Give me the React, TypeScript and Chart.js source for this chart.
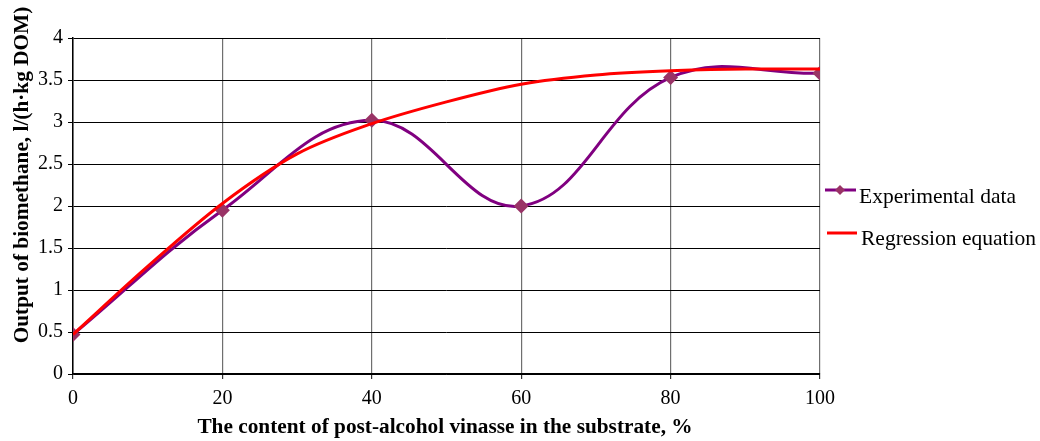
import React, { useEffect, useRef } from "react";
import { Chart, registerables } from "chart.js";

Chart.register(...registerables);

const xContent = [0, 20, 40, 60, 80, 100];
const experimental = [0.47, 1.95, 3.02, 2.0, 3.53, 3.58];

const regressionX = [0, 10, 20, 30, 40, 50, 60, 70, 80, 90, 100];
const regressionY = [0.47, 1.28, 2.03, 2.62, 2.98, 3.24, 3.45, 3.56, 3.61, 3.63, 3.63];

const xTicks = [0, 20, 40, 60, 80, 100];
const yTicks = [0, 0.5, 1, 1.5, 2, 2.5, 3, 3.5, 4];

const legendLabels = ["Experimental data", "Regression equation"];
const xTitle = "The content of post-alcohol vinasse in the substrate, %";
const yTitle = "Output of biomethane, l/(h·kg DOM)";

const PURPLE = "#800080";
const MARKER = "#993366";
const RED = "#ff0000";

const customPlugin = {
  id: "customText",
  afterDraw(chart: any) {
    const ctx = chart.ctx;
    ctx.save();
    // legend
    ctx.lineWidth = 3;
    ctx.strokeStyle = PURPLE;
    ctx.beginPath();
    ctx.moveTo(825, 190);
    ctx.lineTo(856, 190);
    ctx.stroke();
    ctx.fillStyle = MARKER;
    ctx.beginPath();
    ctx.moveTo(840, 185);
    ctx.lineTo(845, 190);
    ctx.lineTo(840, 195);
    ctx.lineTo(835, 190);
    ctx.closePath();
    ctx.fill();
    ctx.strokeStyle = RED;
    ctx.beginPath();
    ctx.moveTo(827, 233);
    ctx.lineTo(857, 233);
    ctx.stroke();
    ctx.fillStyle = "#000";
    ctx.font = "21.5px 'Liberation Serif'";
    ctx.textAlign = "left";
    ctx.textBaseline = "alphabetic";
    ctx.fillText(legendLabels[0], 859, 203);
    ctx.fillText(legendLabels[1], 861, 245);
    // titles
    ctx.font = "bold 21.3px 'Liberation Serif'";
    ctx.textAlign = "center";
    ctx.fillText(xTitle, 445, 433);
    ctx.font = "bold 21.3px 'Liberation Serif'";
    ctx.translate(28, 175);
    ctx.rotate(-Math.PI / 2);
    ctx.fillText(yTitle, 0, 0);
    ctx.restore();
  },
};

export default function App() {
  const ref = useRef<HTMLCanvasElement>(null);
  useEffect(() => {
    if (!ref.current) return;
    const chart = new Chart(ref.current, {
      type: "line",
      data: {
        datasets: [
          {
            label: legendLabels[0],
            data: xContent.map((x, i) => ({ x, y: experimental[i] })),
            borderColor: PURPLE,
            borderWidth: 3,
            backgroundColor: MARKER,
            pointBackgroundColor: MARKER,
            pointBorderColor: MARKER,
            pointStyle: "rectRot",
            pointRadius: 7.5,
            pointBorderWidth: 0,
            tension: 0.4,
            order: 2,
          },
          {
            label: legendLabels[1],
            data: regressionX.map((x, i) => ({ x, y: regressionY[i] })),
            borderColor: RED,
            borderWidth: 3,
            pointRadius: 0,
            cubicInterpolationMode: "monotone",
            order: 1,
          },
        ],
      },
      options: {
        animation: false,
        responsive: false,
        layout: { padding: { top: 38, right: 220, left: 0, bottom: 0 } },
        plugins: { legend: { display: false }, tooltip: { enabled: false } },
        scales: {
          x: {
            type: "linear",
            min: 0,
            max: 100,
            afterBuildTicks: (s: any) => {
              s.ticks = xTicks.map((v) => ({ value: v }));
            },
            afterFit: (s: any) => {
              s.height = 67;
            },
            ticks: {
              color: "#000",
              font: { family: "'Liberation Serif'", size: 20 },
              padding: 8,
              maxRotation: 0,
            },
            grid: { color: "#6f6f6f", lineWidth: 1.2, tickLength: 5, tickColor: "#333" },
            border: { color: "#000", width: 1.5 },
          },
          y: {
            type: "linear",
            min: 0,
            max: 4,
            afterBuildTicks: (s: any) => {
              s.ticks = yTicks.map((v) => ({ value: v }));
            },
            afterFit: (s: any) => {
              s.width = 73;
            },
            ticks: {
              color: "#000",
              font: { family: "'Liberation Serif'", size: 20 },
              padding: 5,
              callback: (v: any) => String(v),
            },
            grid: { color: "#000", lineWidth: 1, tickLength: 5, tickColor: "#000" },
            border: { color: "#000", width: 1.5 },
          },
        },
      },
      plugins: [customPlugin],
    });
    return () => chart.destroy();
  }, []);
  return (
    <div style={{ position: "absolute", left: 0, top: 0, width: 1040, height: 441, background: "#fff" }}>
      <canvas ref={ref} width={1040} height={441} />
    </div>
  );
}
